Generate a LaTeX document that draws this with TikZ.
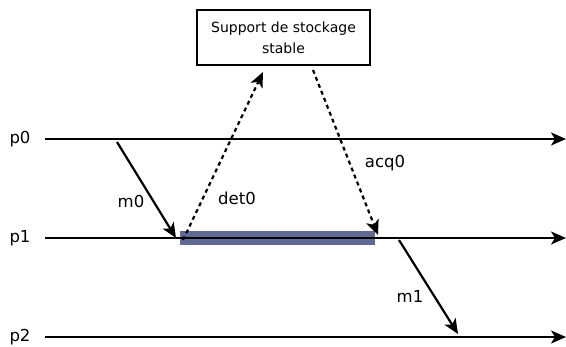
\documentclass[tikz,border=0pt]{standalone}
\usepackage{fontspec}
\setmainfont{DejaVu Sans}
\usetikzlibrary{arrows.meta}
\definecolor{barblue}{RGB}{96,106,148}
\tikzset{
  tl/.style={line width=2.2pt,-{Stealth[length=15pt,width=13pt,inset=4pt]}},
  msg/.style={tl},
  dsh/.style={tl,dash pattern=on 4pt off 3.5pt},
  lbl/.style={font=\fontsize{16.5}{19}\selectfont,inner sep=0pt},
}
\begin{document}
\begin{tikzpicture}[x=1pt,y=-1pt]
\useasboundingbox (0,0) rectangle (566,347);
% box
\node[draw,line width=2pt,minimum width=173pt,minimum height=55pt,align=center,
  font=\fontsize{14}{21}\selectfont,inner sep=0pt] (box) at (283.5,37.5) {Support de stockage\\stable};
% bar
\fill[barblue] (180,231.5) rectangle (375,245.5);
% process lines
\node[lbl] (p0) at (20,139) {p0};
\node[lbl] (p1) at (20,238) {p1};
\node[lbl] (p2) at (20,337) {p2};
\coordinate (p0s) at (45,139); \coordinate (p0e) at (566,139);
\coordinate (p1s) at (45,238); \coordinate (p1e) at (566,238);
\coordinate (p2s) at (45,337); \coordinate (p2e) at (566,337);
\draw[tl] (p0s) -- (p0e);
\draw[tl] (p1s) -- (p1e);
\draw[tl] (p2s) -- (p2e);
% messages
\coordinate (m0a) at (117,142); \coordinate (m0b) at (176,238);
\draw[msg] (m0a) -- (m0b);
\node[lbl] (m0) at (131,201) {m0};
\coordinate (d0a) at (183,240); \coordinate (d0b) at (263,72);
\draw[dsh] (d0a) -- (d0b);
\node[lbl] (det0) at (237,198) {det0};
\coordinate (a0a) at (313,70); \coordinate (a0b) at (378,235);
\draw[dsh] (a0a) -- (a0b);
\node[lbl] (acq0) at (385,163) {acq0};
\coordinate (m1a) at (399,240); \coordinate (m1b) at (458,334);
\draw[msg] (m1a) -- (m1b);
\node[lbl] (m1) at (410,296) {m1};
\end{tikzpicture}
\end{document}
